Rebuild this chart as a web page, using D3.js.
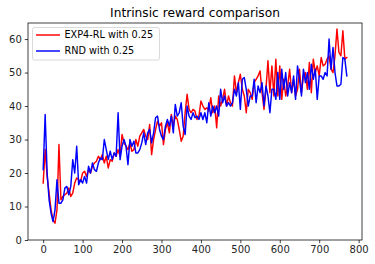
<!DOCTYPE html>
<html>
<head>
<meta charset="utf-8">
<script src="https://cdn.jsdelivr.net/npm/d3@7"></script>
<style>
  body { margin: 0; background: #fff; }
  svg { font-family: "DejaVu Sans", sans-serif; }
</style>
</head>
<body>
<svg id="chart" width="375" height="264"></svg>
<script>
// step of 5 between samples, x = 0..770
var steps = d3.range(0, 775, 5);

var exp4Values = [
  17, 27, 19, 14, 9, 6, 5, 9, 28.5, 12,
  13, 13.5, 14, 15.5, 13, 14, 17, 18.5, 18, 17.5,
  20, 20.5, 19, 21, 20, 22, 23, 23.5, 25, 24,
  25.5, 23, 25, 21.5, 24, 23.5, 26, 25, 27, 25,
  31.5, 29, 28, 27, 29, 26.5, 27, 30, 28, 31,
  32, 33, 31, 30, 34.5, 25.5, 30, 33, 35.5, 34,
  35, 28.5, 33, 35, 32, 37.5, 34, 37, 36, 33,
  29.5, 31, 38, 43.5, 39, 38, 39, 38.5, 36, 37,
  41.5, 40, 39, 39.5, 38.5, 42.5, 38, 40, 33.5, 43,
  40, 42, 45, 40, 43, 41, 40, 49, 44, 47,
  49.5, 45, 43, 38, 45, 44, 42, 47, 48, 49,
  50.5, 44, 39, 45, 53.5, 44, 52, 43, 54, 43,
  52, 42, 48, 43, 46, 51, 44, 48, 43, 45,
  51, 44, 49, 50, 45, 53, 44, 54, 50, 52,
  49, 54.5, 52, 52.5, 54, 55, 51, 50, 55, 63,
  56, 55, 62.5, 54, 54.5
];

var rndValues = [
  21, 37.5, 20, 12, 8, 5.5, 9, 18, 11, 11,
  12, 15.5, 16, 13.5, 16, 24, 20, 28, 16.5, 18,
  17, 19, 17, 22, 20, 23, 21, 20.5, 23, 24.5,
  24, 30, 27, 24, 26.5, 24, 26, 25, 38, 24,
  28, 30, 28, 22.5, 30, 28, 29.5, 26, 26, 27,
  29, 32, 28.5, 32, 33, 29, 32, 36.5, 37, 33,
  31, 30, 34, 36, 34, 37, 32, 40.5, 37, 38,
  41, 34, 31.5, 40, 37, 36, 38, 36.5, 37, 36,
  38, 36, 38, 35, 41, 37, 40, 38, 40, 37,
  45, 41, 43, 40, 41, 40, 41, 45, 43, 47,
  39, 48, 48.5, 45, 40, 43, 43, 48, 41, 46,
  44, 47, 40, 46, 43, 38, 45, 45, 42, 50,
  42, 51, 45, 50, 43, 47, 44, 49, 42, 52,
  48, 43, 51, 47, 50, 45, 52.5, 48, 51, 42,
  49, 49, 48, 50, 49, 60, 51, 57.5, 50, 46,
  46, 46.5, 54.5, 54, 49
];

var seriesNames = ["EXP4-RL with 0.25", "RND with 0.25"];
var seriesColors = ["#ff0000", "#0000ff"];
var xTicks = [0, 100, 200, 300, 400, 500, 600, 700, 800];
var yTicks = [0, 10, 20, 30, 40, 50, 60];
var titleText = "Intrinsic reward comparison";

var margin = { top: 23, right: 13, bottom: 24, left: 28 };
var width = 375 - margin.left - margin.right;
var height = 264 - margin.top - margin.bottom;

var svg = d3.select("#chart");
var g = svg.append("g")
           .attr("transform", "translate(" + margin.left + "," + margin.top + ")");

var x = d3.scaleLinear().domain([-38.5, 808.5]).range([0, width]);
var y = d3.scaleLinear().domain([0, 64.8]).range([height, 0]);

var series = [exp4Values, rndValues].map(function(vals, i) {
  return {
    name: seriesNames[i],
    color: seriesColors[i],
    points: vals.map(function(v, j) { return { x: steps[j], y: v }; })
  };
});

var line = d3.line()
             .x(function(d) { return x(d.x); })
             .y(function(d) { return y(d.y); });

g.append("defs").append("clipPath").attr("id", "clip")
 .append("rect").attr("width", width).attr("height", height);

series.forEach(function(s) {
  g.append("path")
   .datum(s.points)
   .attr("clip-path", "url(#clip)")
   .attr("fill", "none")
   .attr("stroke", s.color)
   .attr("stroke-width", 1.45)
   .attr("stroke-linejoin", "round")
   .attr("stroke-linecap", "square")
   .attr("d", line);
});

// axes
var xAxis = g.append("g")
  .attr("transform", "translate(0," + height + ")")
  .call(d3.axisBottom(x).tickValues(xTicks).tickSize(3.2).tickPadding(3).tickFormat(d3.format("d")));
var yAxis = g.append("g")
  .call(d3.axisLeft(y).tickValues(yTicks).tickSize(3.2).tickPadding(3).tickFormat(d3.format("d")));

[xAxis, yAxis].forEach(function(a) {
  a.select(".domain").remove();
  a.selectAll(".tick line").attr("stroke", "#000").attr("stroke-width", 0.75);
  a.selectAll(".tick text").attr("fill", "#262626").attr("font-size", 10)
   .attr("font-family", "DejaVu Sans");
});

// frame
g.append("rect")
 .attr("width", width).attr("height", height)
 .attr("fill", "none").attr("stroke", "#000").attr("stroke-width", 0.75);

// title
svg.append("text")
   .attr("x", margin.left + width / 2)
   .attr("y", 17)
   .attr("text-anchor", "middle")
   .attr("font-size", 12.2)
   .attr("fill", "#000")
   .text(titleText);

// legend
var legend = g.append("g").attr("transform", "translate(4.5,4.5)");
legend.append("rect")
  .attr("width", 127).attr("height", 32.5)
  .attr("rx", 2).attr("ry", 2)
  .attr("fill", "#fff").attr("fill-opacity", 0.8)
  .attr("stroke", "#cccccc").attr("stroke-width", 0.75);

series.forEach(function(s, i) {
  var ly = 7.5 + i * 16;
  legend.append("line")
    .attr("x1", 3.5).attr("x2", 27.5)
    .attr("y1", ly).attr("y2", ly)
    .attr("stroke", s.color).attr("stroke-width", 1.45);
  legend.append("text")
    .attr("x", 32)
    .attr("y", ly)
    .attr("dy", "0.35em")
    .attr("font-size", 9.7)
    .attr("fill", "#000")
    .text(s.name);
});
</script>
</body>
</html>
